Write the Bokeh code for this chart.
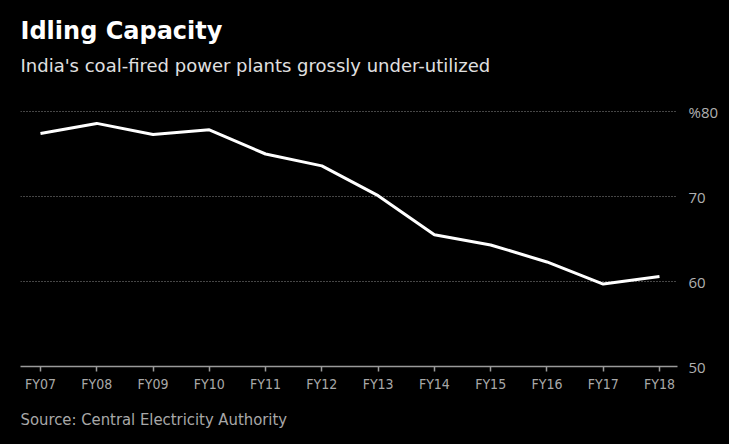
from bokeh.plotting import figure
from bokeh.models import Title, LinearAxis, FixedTicker, Range1d
from bokeh.embed import file_html
from bokeh.resources import INLINE

categories = ["FY07", "FY08", "FY09", "FY10", "FY11", "FY12",
              "FY13", "FY14", "FY15", "FY16", "FY17", "FY18"]
plf = [77.4, 78.6, 77.3, 77.85, 75.0, 73.6, 70.1, 65.5, 64.3, 62.3, 59.7, 60.6]
y_ticks = [50, 60, 70, 80]
y_tick_labels = {80: "%80"}

xs = list(range(len(categories)))

p = figure(width=729, height=444, output_backend="svg", toolbar_location=None,
           x_range=Range1d(-0.355, 11.32), y_range=Range1d(50, 82),
           y_axis_location=None, title_location=None,
           min_border_left=20, min_border_right=52, min_border_top=94, min_border_bottom=78)
p.background_fill_color = "black"
p.border_fill_color = "black"
p.outline_line_color = None

p.line(xs, plf, line_color="white", line_width=3)

# x axis
xa = p.xaxis[0]
xa.ticker = FixedTicker(ticks=xs)
xa.major_label_overrides = {i: c for i, c in zip(xs, categories)}
xa.axis_line_color = "#9a9a9a"
xa.axis_line_width = 1.5
xa.major_tick_line_color = "#9a9a9a"
xa.major_tick_line_width = 1.5
xa.major_tick_in = 0
xa.major_tick_out = 5
xa.minor_tick_line_color = None
xa.major_label_text_color = "#a8a8a8"
xa.major_label_text_font = "DejaVu Sans Condensed"
xa.major_label_text_font_size = "14px"
xa.major_label_standoff = 4

# y axis on right
ya = LinearAxis(ticker=FixedTicker(ticks=y_ticks))
ya.major_label_overrides = y_tick_labels
ya.axis_line_color = None
ya.major_tick_line_color = None
ya.minor_tick_line_color = None
ya.major_tick_in = 0
ya.major_tick_out = 0
ya.major_label_standoff = 11
ya.major_label_text_color = "#b0b0b0"
ya.major_label_text_font = "Open Sans"
ya.major_label_text_font_size = "15px"
p.add_layout(ya, "right")

p.xgrid.grid_line_color = None
p.ygrid.ticker = FixedTicker(ticks=y_ticks)
p.ygrid.grid_line_color = "#8a8a8a"
p.ygrid.grid_line_dash = "1 2"
p.ygrid.grid_line_width = 1

p.add_layout(Title(text="India's coal-fired power plants grossly under-utilized",
                   text_color="#e0e0e0", text_font="DejaVu Sans",
                   text_font_style="normal", text_font_size="18px",
                   align="left", standoff=37), "above")
p.add_layout(Title(text="Idling Capacity", text_color="white",
                   text_font="DejaVu Sans", text_font_style="bold",
                   text_font_size="24px",
                   align="left", standoff=-21), "above")
p.add_layout(Title(text="Source: Central Electricity Authority",
                   text_color="#a8a8a8", text_font="DejaVu Sans Condensed",
                   text_font_style="normal", text_font_size="16.5px",
                   align="left", standoff=27), "below")

html = file_html(p, INLINE)
html = html.replace("</head>", "<style>html,body{background:#000;}</style></head>", 1)
open("out.html", "w").write(html)
